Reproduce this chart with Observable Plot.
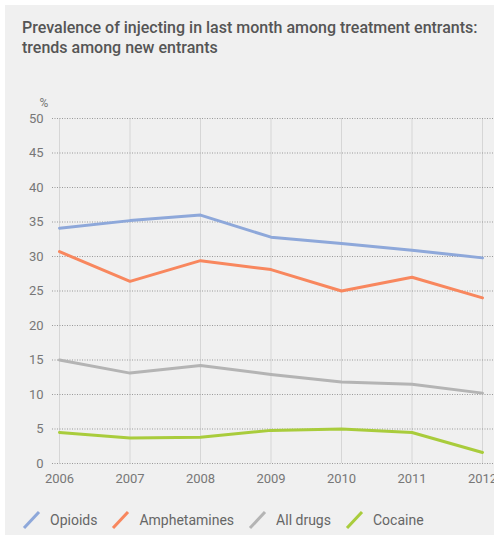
<!DOCTYPE html>
<html>
<head>
<meta charset="utf-8">
<script src="https://cdn.jsdelivr.net/npm/d3@7"></script>
<script src="https://cdn.jsdelivr.net/npm/@observablehq/plot@0.6"></script>
<style>
  html, body { margin: 0; padding: 0; background: #fff; }
  body { width: 494px; height: 540px; overflow: hidden; position: relative; font-family: Roboto, "Noto Sans", sans-serif; }
  #panel { position: absolute; left: 5px; top: 5px; width: 489px; height: 530px; background: #f0f0f0; }
  #title { position: absolute; left: 17px; top: 13px; font-size: 16px; font-weight: 500; line-height: 20px; color: #555; }
  #chart { position: absolute; left: 0; top: 85px; }
  #legend { position: absolute; left: 17px; top: 505px; display: flex; align-items: center; font-size: 14px; color: #666; }
  .item { display: flex; align-items: center; margin-right: 14px; }
  .item svg { margin-right: 8px; }
</style>
</head>
<body>
<div id="panel">
  <div id="title">Prevalence of injecting in last month among treatment entrants:<br>trends among new entrants</div>
  <div id="chart"></div>
  <div id="legend"></div>
</div>
<script>
const years = [2006, 2007, 2008, 2009, 2010, 2011, 2012];
const seriesNames = ["Opioids", "Amphetamines", "All drugs", "Cocaine"];
const opioids = [34.1, 35.2, 36.0, 32.8, 31.9, 30.9, 29.8];
const amphetamines = [30.7, 26.4, 29.4, 28.1, 25.0, 27.0, 24.0];
const allDrugs = [15.0, 13.1, 14.2, 12.9, 11.8, 11.5, 10.2];
const cocaine = [4.5, 3.7, 3.8, 4.8, 5.0, 4.5, 1.6];
const colors = ["#8ea8da", "#f8875e", "#b4b4b4", "#a9cc3c"];
const yTicks = [0, 5, 10, 15, 20, 25, 30, 35, 40, 45, 50];

const valuesBySeries = [opioids, amphetamines, allDrugs, cocaine];
const data = [];
seriesNames.forEach((name, i) => {
  years.forEach((yr, j) => data.push({series: name, year: yr, value: valuesBySeries[i][j]}));
});

const chart = Plot.plot({
  width: 489,
  height: 400,
  marginLeft: 54,
  marginRight: 12,
  marginTop: 28,
  marginBottom: 27,
  style: {fontFamily: "Roboto, 'Noto Sans', sans-serif", fontSize: "13px", color: "#777", background: "transparent", overflow: "visible"},
  x: {domain: [2006, 2012], ticks: years, tickFormat: d => String(d)},
  y: {domain: [0, 50], ticks: yTicks},
  color: {domain: seriesNames, range: colors},
  marks: [
    Plot.ruleX(years, {x: d => d, y1: 0, y2: 50, stroke: "#d6d6d6", strokeWidth: 1}),
    Plot.ruleY(yTicks, {y: d => d, stroke: "#999", strokeWidth: 1, strokeDasharray: "1,1.5", insetLeft: -7, insetRight: -13}),
    Plot.axisX({ticks: years, tickSize: 0, tickPadding: 10, tickFormat: d => String(d), label: null, fill: "#777"}),
    Plot.axisY({ticks: yTicks, tickSize: 0, tickPadding: 16, label: null, fill: "#777"}),
    Plot.text(["%"], {frameAnchor: "top-left", dx: -20, dy: -20, text: d => d, fill: "#777", fontSize: 12}),
    Plot.line(data, {x: "year", y: "value", z: "series", stroke: "series", strokeWidth: 3})
  ]
});
document.getElementById("chart").appendChild(chart);

const legend = document.getElementById("legend");
seriesNames.forEach((name, i) => {
  const item = document.createElement("div");
  item.className = "item";
  item.innerHTML = `<svg width="20" height="20"><line x1="2" y1="18" x2="17" y2="2" stroke="${colors[i]}" stroke-width="3"/></svg><span>${name}</span>`;
  legend.appendChild(item);
});
</script>
</body>
</html>
